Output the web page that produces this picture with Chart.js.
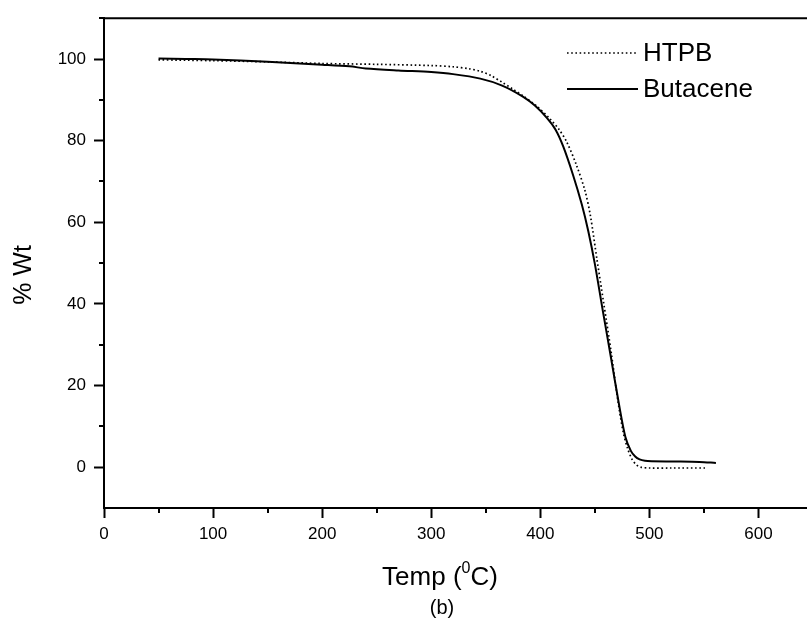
<!DOCTYPE html>
<html>
<head>
<meta charset="utf-8">
<script src="https://cdn.jsdelivr.net/npm/chart.js@4"></script>
<style>
  html, body { margin: 0; padding: 0; background: #fff; overflow: hidden; }
  #wrap { width: 807px; height: 623px; overflow: hidden; }
  canvas { display: block; }
</style>
</head>
<body>
<div id="wrap"><canvas id="tga" width="820" height="623"></canvas></div>
<script>
// Thermogravimetric curves: residual weight (%) against temperature (°C)
const htpbTemp = [50, 100, 150, 200, 250, 300, 320, 335, 345, 355, 365, 375, 385, 397, 409, 417, 424, 433, 441, 446, 452, 458, 465, 471, 476, 480, 484, 488, 492, 500, 520, 551];
const htpbWt   = [99.8, 99.6, 99.3, 98.9, 98.7, 98.4, 98.1, 97.6, 97.0, 95.9, 94.3, 92.6, 90.8, 88.4, 85.3, 82.8, 79.8, 74.1, 67.7, 61.5, 50.8, 40.4, 28.1, 16.5, 8.6, 4.6, 2.0, 0.6, 0.0, -0.2, -0.2, -0.2];

const butaceneTemp = [50, 75, 100, 150, 200, 225, 240, 270, 300, 320, 345, 365, 384, 395, 406, 414, 421, 430, 438, 444, 450, 457, 465, 472, 478, 483, 487, 491, 496, 502, 525, 546, 561];
const butaceneWt   = [100.1, 100.0, 99.9, 99.3, 98.6, 98.2, 97.7, 97.2, 96.8, 96.3, 95.2, 93.5, 90.8, 88.6, 85.6, 82.7, 78.6, 71.6, 64.4, 57.8, 49.8, 38.8, 26.5, 15.6, 7.4, 4.0, 2.6, 1.9, 1.55, 1.45, 1.4, 1.3, 1.05];

const seriesNames = ['HTPB', 'Butacene'];

const xMajorTicks = [0, 100, 200, 300, 400, 500, 600];
const xMinorTicks = [50, 150, 250, 350, 450, 550, 650];
const yMajorTicks = [0, 20, 40, 60, 80, 100];
const yMinorTicks = [10, 30, 50, 70, 90, 110];

const xTitleParts = ['Temp (', '0', 'C)'];
const yTitle = '% Wt';
const caption = '(b)';

const FONT = '"Liberation Sans", Arial, Helvetica, sans-serif';

function pairs(xs, ys) { return xs.map((v, i) => ({ x: v, y: ys[i] })); }

// Minor ticks, top frame line, axis titles, caption and the in-plot legend
const decorations = {
  id: 'decorations',
  afterDraw(chart) {
    const { ctx, chartArea: a, scales: { x, y } } = chart;
    ctx.save();
    ctx.strokeStyle = '#000';
    ctx.fillStyle = '#000';

    // top frame line
    ctx.lineWidth = 2;
    ctx.beginPath();
    ctx.moveTo(a.left - 1, a.top);
    ctx.lineTo(a.right, a.top);
    ctx.stroke();

    // minor ticks
    ctx.lineWidth = 2;
    ctx.beginPath();
    xMinorTicks.forEach(v => {
      const px = Math.round(x.getPixelForValue(v));
      ctx.moveTo(px, a.bottom);
      ctx.lineTo(px, a.bottom + 5);
    });
    yMinorTicks.forEach(v => {
      const py = Math.round(y.getPixelForValue(v));
      ctx.moveTo(a.left, py);
      ctx.lineTo(a.left - 5, py);
    });
    ctx.stroke();

    // x axis title with superscript degree marker
    const big = '26px ' + FONT, small = '16px ' + FONT;
    ctx.textBaseline = 'alphabetic';
    ctx.textAlign = 'left';
    ctx.font = big; const w1 = ctx.measureText(xTitleParts[0]).width;
    ctx.font = small; const w2 = ctx.measureText(xTitleParts[1]).width;
    ctx.font = big; const w3 = ctx.measureText(xTitleParts[2]).width;
    const total = w1 + w2 + w3;
    let tx = 440 - total / 2;
    const base = 585;
    ctx.font = big; ctx.fillText(xTitleParts[0], tx, base); tx += w1;
    ctx.font = small; ctx.fillText(xTitleParts[1], tx, base - 12); tx += w2;
    ctx.font = big; ctx.fillText(xTitleParts[2], tx, base);

    // caption
    ctx.font = '20px ' + FONT;
    ctx.textAlign = 'center';
    ctx.fillText(caption, 442, 614);

    // y axis title
    ctx.save();
    ctx.translate(24, 275);
    ctx.rotate(-Math.PI / 2);
    ctx.font = '25px ' + FONT;
    ctx.textAlign = 'center';
    ctx.textBaseline = 'middle';
    ctx.fillText(yTitle, 0, 0);
    ctx.restore();

    // legend
    const rows = [53, 89];
    chart.data.datasets.forEach((ds, i) => {
      const ly = rows[i];
      ctx.save();
      ctx.strokeStyle = ds.borderColor;
      ctx.lineWidth = ds.borderWidth;
      ctx.setLineDash(ds.borderDash || []);
      ctx.beginPath();
      ctx.moveTo(567, ly);
      ctx.lineTo(638, ly);
      ctx.stroke();
      ctx.restore();
      ctx.font = '26px ' + FONT;
      ctx.textAlign = 'left';
      ctx.textBaseline = 'middle';
      ctx.fillText(ds.label, 643, ly + 1);
    });

    ctx.restore();
  }
};

new Chart(document.getElementById('tga'), {
  type: 'scatter',
  data: {
    datasets: [
      {
        label: seriesNames[0],
        data: pairs(htpbTemp, htpbWt),
        showLine: true,
        borderColor: '#000',
        borderWidth: 1.7,
        borderDash: [1.6, 2.6],
        pointRadius: 0,
        tension: 0.3,
        fill: false
      },
      {
        label: seriesNames[1],
        data: pairs(butaceneTemp, butaceneWt),
        showLine: true,
        borderColor: '#000',
        borderWidth: 2,
        pointRadius: 0,
        tension: 0.3,
        fill: false
      }
    ]
  },
  options: {
    responsive: false,
    animation: false,
    devicePixelRatio: 1,
    layout: { padding: { top: 12, right: 7, left: 0, bottom: 0 } },
    plugins: { legend: { display: false }, tooltip: { enabled: false } },
    scales: {
      x: {
        type: 'linear',
        min: 0,
        max: 650,
        afterBuildTicks: s => { s.ticks = xMajorTicks.map(v => ({ value: v })); },
        afterFit: s => { s.height = 115; },
        border: { display: true, color: '#000', width: 2 },
        grid: { display: true, drawOnChartArea: false, drawTicks: true, tickLength: 10, tickColor: '#000', tickWidth: 2 },
        ticks: { color: '#000', font: { family: FONT, size: 17 }, padding: 6, maxRotation: 0 }
      },
      y: {
        type: 'linear',
        min: -10,
        max: 110,
        afterBuildTicks: s => { s.ticks = yMajorTicks.map(v => ({ value: v })); },
        afterFit: s => { s.width = 104; },
        border: { display: true, color: '#000', width: 2 },
        grid: { display: true, drawOnChartArea: false, drawTicks: true, tickLength: 10, tickColor: '#000', tickWidth: 2 },
        ticks: { color: '#000', font: { family: FONT, size: 17 }, padding: 8 }
      }
    }
  },
  plugins: [decorations]
});
</script>
</body>
</html>
